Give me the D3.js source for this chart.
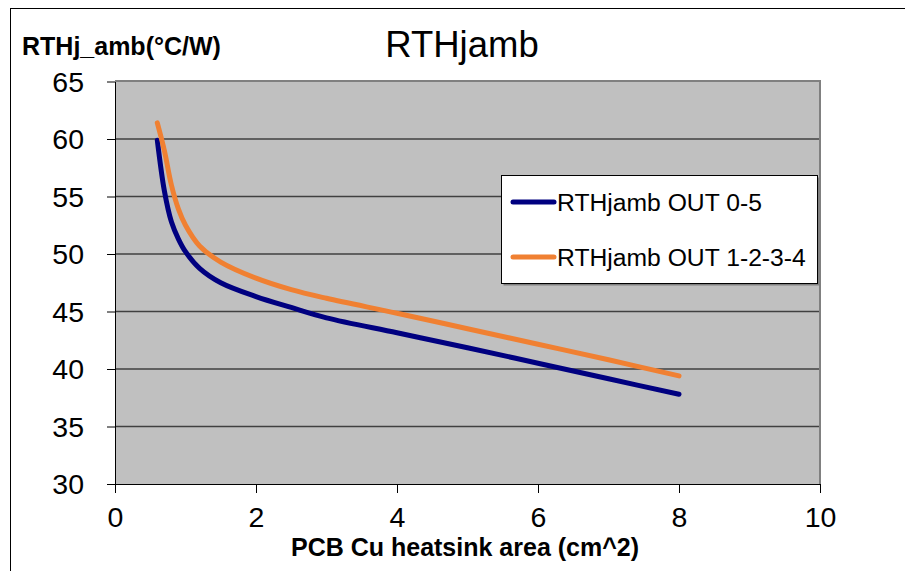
<!DOCTYPE html>
<html><head><meta charset="utf-8">
<script src="https://cdn.jsdelivr.net/npm/d3@7"></script>
<style>body{margin:0;background:#fff}svg{display:block}text{font-family:"Liberation Sans",Arial,sans-serif}</style>
</head><body><svg id="c" width="905" height="571"></svg>
<script>
const xValues = [0.6,0.7,0.8,0.9,1.0,1.2,1.5,2.0,2.5,3.0,4.0,5.0,6.0,7.0,8.0];
const out05 = [59.9,55.5,52.8,51.3,50.2,48.75,47.5,46.3,45.35,44.45,43.15,41.85,40.5,39.15,37.8];
const out1234 = [61.4,59.0,56.0,53.9,52.5,50.7,49.3,47.9,46.9,46.15,44.85,43.5,42.15,40.8,39.4];
const seriesNames = ["RTHjamb OUT 0-5","RTHjamb OUT 1-2-3-4"];
const seriesColors = ["#000080","#F08032"];
const xTicks = [0,2,4,6,8,10];
const yTicks = [30,35,40,45,50,55,60,65];

const svg = d3.select("#c");
const L=115, R=820, T=81.5, B=484;
const x = d3.scaleLinear().domain([0,10]).range([L,R]);
const y = d3.scaleLinear().domain([30,65]).range([B,T]);

svg.append("rect").attr("x",10.5).attr("y",8.5).attr("width",920).attr("height",600)
  .attr("fill","none").attr("stroke","#000").attr("stroke-width",1);

svg.append("rect").attr("x",L).attr("y",T).attr("width",R-L).attr("height",B-T).attr("fill","#C0C0C0");

// gridlines
svg.append("g").selectAll("line").data(yTicks.filter(d=>d>30&&d<65)).join("line")
  .attr("x1",L).attr("x2",R).attr("y1",d=>y(d)).attr("y2",d=>y(d))
  .attr("stroke","#404040").attr("stroke-width",1.5);
// top and right border
svg.append("line").attr("x1",L).attr("x2",R+1).attr("y1",T-0.5).attr("y2",T-0.5).attr("stroke","#808080").attr("stroke-width",2);
svg.append("line").attr("x1",R).attr("x2",R).attr("y1",T-1).attr("y2",B).attr("stroke","#808080").attr("stroke-width",2);

// axes
const yAxis = d3.axisLeft(y).tickValues(yTicks).tickSize(8).tickPadding(23).tickSizeOuter(0);
const gy = svg.append("g").attr("transform",`translate(${L},0)`).call(yAxis);
gy.select(".domain").attr("stroke","#000");
gy.selectAll("text").attr("font-size",28.5).attr("fill","#000").attr("dy","0.35em");

const xAxis = d3.axisBottom(x).tickValues(xTicks).tickSize(9).tickPadding(14).tickSizeOuter(0);
const gx = svg.append("g").attr("transform",`translate(0,${B})`).call(xAxis);
gx.select(".domain").attr("stroke","#000");
gx.selectAll("text").attr("font-size",28.5).attr("fill","#000");
gx.selectAll(".tick line").attr("stroke","#000");
gy.selectAll(".tick line").attr("stroke","#000");

// lines
const line = d3.line().x((d,i)=>x(xValues[i])).y(d=>y(d)).curve(d3.curveCatmullRom.alpha(0.5));
[out05,out1234].forEach((s,i)=>{
  svg.append("path").datum(s).attr("d",line).attr("fill","none")
    .attr("stroke",seriesColors[i]).attr("stroke-width",5).attr("stroke-linecap","round").attr("stroke-linejoin","round");
});

// titles
svg.append("text").attr("x",462).attr("y",57).attr("text-anchor","middle").attr("font-size",36.5).text("RTHjamb");
svg.append("text").attr("x",22).attr("y",55).attr("font-size",25).attr("font-weight","bold").text("RTHj_amb(°C/W)");
svg.append("text").attr("x",465).attr("y",556).attr("text-anchor","middle").attr("font-size",25).attr("font-weight","bold").text("PCB Cu heatsink area (cm^2)");

// legend
const lg = svg.append("g");
lg.append("rect").attr("x",503.5).attr("y",177.5).attr("width",316).attr("height",108).attr("fill","#808080");
lg.append("rect").attr("x",501.5).attr("y",175.5).attr("width",316).attr("height",108).attr("fill","#fff").attr("stroke","#000").attr("stroke-width",1);
seriesNames.forEach((n,i)=>{
  const yy = 202 + i*55;
  lg.append("line").attr("x1",513).attr("x2",554).attr("y1",yy).attr("y2",yy)
    .attr("stroke",seriesColors[i]).attr("stroke-width",5).attr("stroke-linecap","round");
  lg.append("text").attr("x",557).attr("y",yy+8.5).attr("font-size",24.7).text(n);
});
</script></body></html>
